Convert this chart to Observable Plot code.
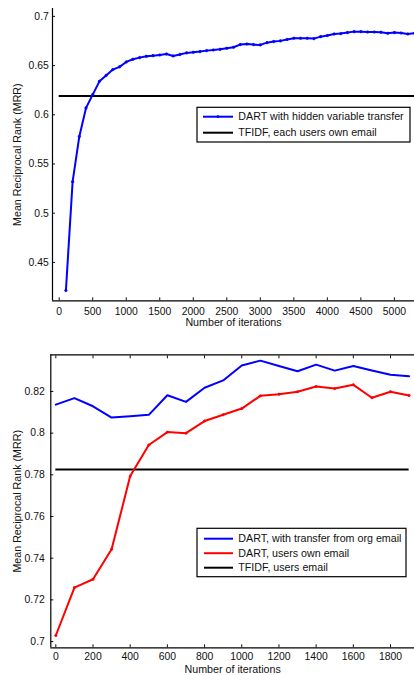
<!DOCTYPE html>
<html>
<head>
<meta charset="utf-8">
<script src="https://cdn.jsdelivr.net/npm/d3@7"></script>
<script src="https://cdn.jsdelivr.net/npm/@observablehq/plot@0.6"></script>
<style>
  html, body { margin: 0; padding: 0; background: #fff; }
  #wrap { width: 414px; height: 675px; overflow: hidden; }
  svg { display: block; }
</style>
</head>
<body>
<div id="wrap"></div>
<script>
// ---------- Top chart data ----------
const topIter = [100,200,300,400,500,600,700,800,900,1000,1100,1200,1300,1400,1500,1600,1700,1800,1900,2000,
  2100,2200,2300,2400,2500,2600,2700,2800,2900,3000,3100,3200,3300,3400,3500,3600,3700,3800,3900,4000,
  4100,4200,4300,4400,4500,4600,4700,4800,4900,5000,5100,5200,5300];
const topDart = [0.4215,0.532,0.578,0.607,0.6205,0.634,0.640,0.6459,0.6487,0.6537,0.6564,0.6581,0.6594,0.6601,0.6608,0.6618,0.6598,0.6613,0.6629,0.6635,
  0.6642,0.6652,0.6659,0.6665,0.6676,0.6686,0.6713,0.6720,0.6713,0.6710,0.6733,0.6744,0.6751,0.6765,0.6778,0.6777,0.6777,0.6774,0.6794,0.6805,
  0.6821,0.6825,0.6835,0.6845,0.6845,0.6841,0.6841,0.6838,0.6828,0.6835,0.6831,0.6821,0.6828];
const topTfidf = 0.619;
const topXTicks = [0,500,1000,1500,2000,2500,3000,3500,4000,4500,5000];
const topYTicks = [0.45,0.5,0.55,0.6,0.65,0.7];
const topLegend = ["DART with hidden variable transfer", "TFIDF, each users own email"];

// ---------- Bottom chart data ----------
const botIter = [0,100,200,300,400,500,600,700,800,900,1000,1100,1200,1300,1400,1500,1600,1700,1800,1900];
const botTransfer = [0.8137,0.8168,0.8129,0.8075,0.8081,0.8088,0.8182,0.8150,0.8218,0.8253,0.8325,0.8348,0.8322,0.8297,0.8329,0.8300,0.8322,0.8301,0.8280,0.8273];
const botOwn = [0.7029,0.7259,0.7299,0.7443,0.7794,0.7943,0.8005,0.8000,0.8058,0.8088,0.8118,0.8179,0.8187,0.8199,0.8224,0.8214,0.8232,0.8170,0.8199,0.8181];
const botTfidf = 0.7826;
const botXTicks = [0,200,400,600,800,1000,1200,1400,1600,1800];
const botYTicks = [0.7,0.72,0.74,0.76,0.78,0.8,0.82];
const botLegend = ["DART, with transfer from org email", "DART, users own email", "TFIDF, users email"];

const yLabel = "Mean Reciprocal Rank (MRR)";
const xLabel = "Number of iterations";

const FONT = "'Liberation Sans', Arial, Helvetica, sans-serif";
const BLUE = "#0000ff", RED = "#ff0000", BLACK = "#000000";
const TICK_FS = 10.4, LABEL_FS = 10.7;

const topData = topIter.map((x, i) => ({x, y: topDart[i]}));
const botData1 = botIter.map((x, i) => ({x, y: botTransfer[i]}));
const botData2 = botIter.map((x, i) => ({x, y: botOwn[i]}));

const topXDomain = [-100, 5300], topYDomain = [0.411, 0.708];
const botXDomain = [-27, 1929], botYDomain = [0.697, 0.8376];

const chartTop = Plot.plot({
  width: 414, height: 335,
  marginLeft: 52, marginRight: 0, marginTop: 8, marginBottom: 34.7,
  style: {fontFamily: FONT, fontSize: "10px", color: "#111", background: "#fff", overflow: "hidden"},
  x: {domain: topXDomain},
  y: {domain: topYDomain},
  marks: [
    Plot.axisX({ticks: topXTicks, tickSize: -3, tickPadding: 9.4, tickFormat: d => String(d), label: null, fontSize: TICK_FS}),
    Plot.axisY({ticks: topYTicks, tickSize: -3, tickPadding: 6.7, tickFormat: d => String(d), label: null, fontSize: TICK_FS}),
    Plot.ruleX([topXDomain[0]], {stroke: BLACK, strokeWidth: 1.2}),
    Plot.ruleY([topYDomain[0]], {stroke: BLACK, strokeWidth: 1.2}),
    Plot.ruleY([topTfidf], {x1: 0, x2: topXDomain[1], stroke: BLACK, strokeWidth: 2}),
    Plot.line(topData, {x: "x", y: "y", stroke: BLUE, strokeWidth: 2}),
    Plot.dot(topData, {x: "x", y: "y", r: 1.3, fill: BLUE, stroke: BLUE, strokeWidth: 0.5}),
    Plot.text([yLabel], {frameAnchor: "left", rotate: -90, dx: -35, textAnchor: "middle", lineAnchor: "middle", fontSize: LABEL_FS, fill: "#111"}),
    Plot.text([xLabel], {frameAnchor: "bottom", dy: 21.5, textAnchor: "middle", lineAnchor: "middle", fontSize: LABEL_FS, fill: "#111"})
  ]
});

const chartBot = Plot.plot({
  width: 414, height: 340,
  marginLeft: 50.3, marginRight: 0, marginTop: 19.3, marginBottom: 27.7,
  style: {fontFamily: FONT, fontSize: "10px", color: "#111", background: "#fff", overflow: "hidden"},
  x: {domain: botXDomain},
  y: {domain: botYDomain},
  marks: [
    Plot.axisX({ticks: botXTicks, tickSize: -3, tickPadding: 8.1, tickFormat: d => String(d), label: null, fontSize: TICK_FS}),
    Plot.axisX({anchor: "top", ticks: botXTicks, tickSize: -3, tickFormat: () => "", label: null}),
    Plot.axisY({ticks: botYTicks, tickSize: -3, tickPadding: 9, tickFormat: d => String(d), label: null, fontSize: TICK_FS}),
    Plot.ruleX([botXDomain[0]], {stroke: BLACK, strokeWidth: 1.2}),
    Plot.ruleY([botYDomain[0]], {stroke: BLACK, strokeWidth: 1.2}),
    Plot.ruleY([botYDomain[1]], {stroke: BLACK, strokeWidth: 1.2}),
    Plot.ruleY([botTfidf], {x1: 0, x2: 1900, stroke: BLACK, strokeWidth: 2}),
    Plot.line(botData1, {x: "x", y: "y", stroke: BLUE, strokeWidth: 2}),
    Plot.line(botData2, {x: "x", y: "y", stroke: RED, strokeWidth: 2}),
    Plot.dot(botData2, {x: "x", y: "y", r: 1.2, fill: RED, stroke: RED, strokeWidth: 0.5}),
    Plot.text([yLabel], {frameAnchor: "left", rotate: -90, dx: -33, textAnchor: "middle", lineAnchor: "middle", fontSize: LABEL_FS, fill: "#111"}),
    Plot.text([xLabel], {frameAnchor: "bottom", dy: 21.7, textAnchor: "middle", lineAnchor: "middle", fontSize: LABEL_FS, fill: "#111"})
  ]
});

function addLegend(svg, box, entries) {
  const g = d3.select(svg).append("g").attr("font-family", FONT).attr("text-anchor", "start")
    .style("font-size", LABEL_FS + "px");
  g.append("rect").attr("x", box.x).attr("y", box.y).attr("width", box.w).attr("height", box.h)
    .attr("fill", "#fff").attr("stroke", "#000").attr("stroke-width", 1.2);
  entries.forEach((e, i) => {
    const cy = box.y0 + i * box.step;
    g.append("line").attr("x1", box.lx1).attr("x2", box.lx2).attr("y1", cy).attr("y2", cy)
      .attr("stroke", e.color).attr("stroke-width", 2);
    if (e.marker) {
      g.append("circle").attr("cx", (box.lx1 + box.lx2) / 2).attr("cy", cy).attr("r", 1.4).attr("fill", e.color);
    }
    g.append("text").attr("x", box.tx).attr("y", cy).attr("dy", "0.35em").attr("text-anchor", "start")
      .style("font-size", LABEL_FS + "px").attr("fill", "#111").text(e.label);
  });
}

addLegend(chartTop, {x: 197, y: 107.3, w: 213, h: 34.7, y0: 116.7, step: 16, lx1: 203, lx2: 233, tx: 238.3}, [
  {label: topLegend[0], color: BLUE, marker: true},
  {label: topLegend[1], color: BLACK}
]);
addLegend(chartBot, {x: 197, y: 193.3, w: 209, h: 48.4, y0: 203.7, step: 14.5, lx1: 204, lx2: 233, tx: 238.3}, [
  {label: botLegend[0], color: BLUE},
  {label: botLegend[1], color: RED},
  {label: botLegend[2], color: BLACK}
]);

document.getElementById("wrap").append(chartTop, chartBot);
</script>
</body>
</html>
